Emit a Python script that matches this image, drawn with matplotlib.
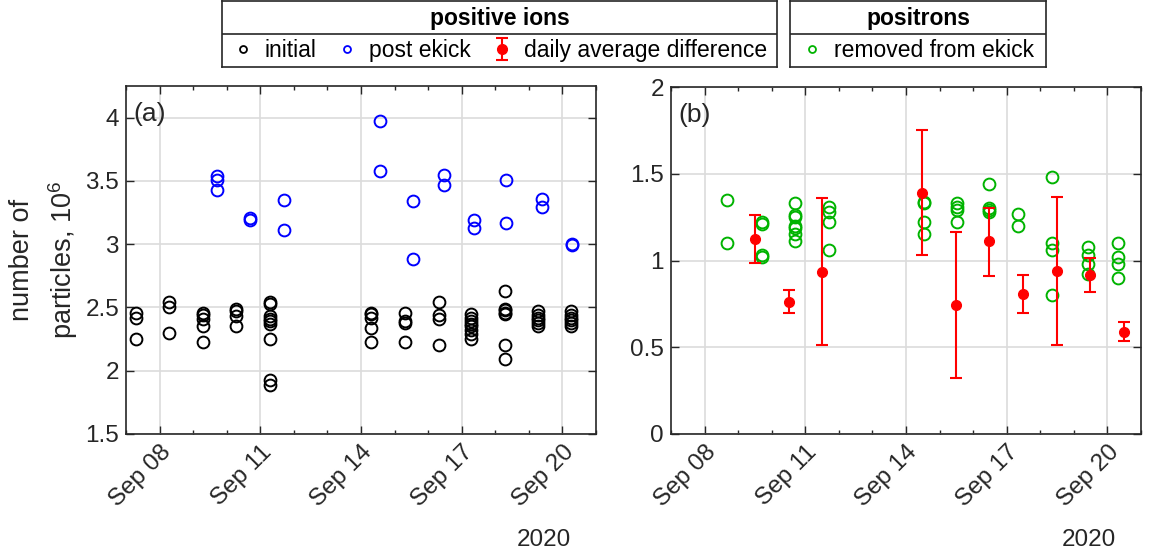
import numpy as np
import pandas as pd
import matplotlib
matplotlib.use("Agg")
import matplotlib.pyplot as plt
import matplotlib.dates as mdates
from matplotlib.lines import Line2D
from matplotlib.ticker import FuncFormatter

plt.rcParams['font.family'] = ['Liberation Sans', 'DejaVu Sans']
plt.rcParams['mathtext.fontset'] = 'custom'
plt.rcParams['mathtext.rm'] = 'Liberation Sans'

# day of September 2020 (fractional) and measured values
ion_init_days = [7.29, 8.28, 9.28, 10.28, 11.29, 14.30, 15.30, 16.31, 17.29, 18.29, 19.27, 20.27]
ion_init = [
    [2.46, 2.42, 2.25],
    [2.54, 2.50, 2.30],
    [2.46, 2.44, 2.41, 2.35, 2.23],
    [2.49, 2.47, 2.43, 2.35],
    [2.54, 2.53, 2.43, 2.41, 2.39, 2.37, 2.25, 1.93, 1.89],
    [2.46, 2.45, 2.42, 2.34, 2.23],
    [2.46, 2.39, 2.38, 2.23],
    [2.54, 2.44, 2.41, 2.20],
    [2.45, 2.42, 2.39, 2.37, 2.35, 2.32, 2.29, 2.25],
    [2.63, 2.49, 2.48, 2.46, 2.45, 2.20, 2.09],
    [2.47, 2.44, 2.42, 2.40, 2.38, 2.35],
    [2.47, 2.44, 2.42, 2.40, 2.38, 2.35],
]
ion_post_days = [9.70, 10.70, 11.70, 14.58, 15.54, 16.47, 17.37, 18.33, 19.40, 20.29]
ion_post = [
    [3.54, 3.51, 3.43],
    [3.21, 3.19],
    [3.35, 3.11],
    [3.97, 3.58],
    [3.34, 2.88],
    [3.55, 3.47],
    [3.19, 3.13],
    [3.51, 3.17],
    [3.36, 3.29],
    [3.00, 2.99],
]
pos_days = [8.67, 9.72, 10.69, 11.70, 14.55, 15.51, 16.46, 17.35, 18.34, 19.41, 20.30]
pos_removed = [
    [1.35, 1.10],
    [1.22, 1.21, 1.03, 1.02],
    [1.33, 1.26, 1.25, 1.20, 1.19, 1.15, 1.11],
    [1.31, 1.28, 1.22, 1.06],
    [1.34, 1.33, 1.22, 1.15],
    [1.33, 1.31, 1.29, 1.22],
    [1.44, 1.30, 1.29, 1.28],
    [1.27, 1.20],
    [1.48, 1.10, 1.06, 0.80],
    [1.08, 1.03, 0.98, 0.92],
    [1.10, 1.02, 0.98, 0.90],
]
diff_days = [9.50, 10.50, 11.49, 14.48, 15.48, 16.47, 17.48, 18.49, 19.48, 20.48]
diff_mean = [1.125, 0.76, 0.935, 1.39, 0.745, 1.11, 0.805, 0.94, 0.915, 0.59]
diff_low = [0.985, 0.695, 0.515, 1.03, 0.32, 0.91, 0.695, 0.515, 0.82, 0.535]
diff_high = [1.265, 0.83, 1.36, 1.75, 1.165, 1.30, 0.915, 1.365, 1.015, 0.645]

GREEN = (0, 0.7, 0)
AXC = '#262626'
FS = 17.5      # tick labels
LFS = 16.5     # legend


def to_dates(days):
    return pd.Timestamp('2020-09-01') + pd.to_timedelta(np.asarray(days, dtype=float) - 1, unit='D')


def flatten(days, groups):
    xs = np.concatenate([[d] * len(g) for d, g in zip(days, groups)])
    ys = np.concatenate(groups)
    return to_dates(xs), ys


def style(ax):
    ax.set_xlim(to_dates([7, 21]))
    ax.xaxis.set_major_locator(mdates.DayLocator(bymonthday=[8, 11, 14, 17, 20]))
    ax.xaxis.set_minor_locator(mdates.DayLocator())
    ax.xaxis.set_major_formatter(mdates.DateFormatter('%b %d'))
    ax.yaxis.set_major_formatter(FuncFormatter(lambda v, p: '%g' % v))
    ax.grid(True, color='#dcdcdc', lw=1.2)
    ax.set_axisbelow(True)
    ax.tick_params(which='both', direction='in', top=True, right=True,
                   labelsize=FS, colors=AXC, width=1.0)
    ax.tick_params(which='major', length=6, pad=5)
    ax.tick_params(which='minor', length=3)
    for sp in ax.spines.values():
        sp.set_color(AXC)
        sp.set_linewidth(1.2)
    plt.setp(ax.get_xticklabels(), rotation=45, ha='right', va='top',
             rotation_mode='anchor')
    ax.text(0.89, -0.305, '2020', transform=ax.transAxes, ha='center',
            va='center', fontsize=FS, color=AXC)


W, H = 1154, 556
fig = plt.figure(figsize=(W / 100, H / 100), dpi=100)
ax1 = fig.add_axes([126 / W, 122 / H, 470 / W, 348 / H])
ax2 = fig.add_axes([671 / W, 122 / H, 470 / W, 347 / H])

# (a) positive ions
x, y = flatten(ion_init_days, ion_init)
ax1.plot(x, y, 'o', mfc='none', mec='k', ms=8.5, mew=1.4)
x, y = flatten(ion_post_days, ion_post)
ax1.plot(x, y, 'o', mfc='none', mec='b', ms=8.5, mew=1.4)
ax1.set_ylim(1.5, 4.25)
ax1.set_yticks([1.5, 2, 2.5, 3, 3.5, 4])
ax1.set_ylabel('number of\nparticles, $10^6$', fontsize=19.5, color=AXC,
               linespacing=1.45)
ax1.yaxis.set_label_coords(-0.097, 0.5)
ax1.text(0.016, 0.955, '(a)', transform=ax1.transAxes, fontsize=19,
         va='top', ha='left', color=AXC)
style(ax1)

# (b) positrons
x, y = flatten(pos_days, pos_removed)
ax2.plot(x, y, 'o', mfc='none', mec=GREEN, ms=8.5, mew=1.4)
dm = np.array(diff_mean)
err = [dm - np.array(diff_low), np.array(diff_high) - dm]
eb = ax2.errorbar(to_dates(diff_days), dm, yerr=err, fmt='o', color='red',
                  ms=7, capsize=4, elinewidth=1.5, capthick=1.5)
ax2.set_ylim(0, 2)
ax2.set_yticks([0, 0.5, 1, 1.5, 2])
ax2.text(0.016, 0.955, '(b)', transform=ax2.transAxes, fontsize=19,
         va='top', ha='left', color=AXC)
style(ax2)


# legend boxes
def legend_box(rect, title, handles, labels, ncol):
    lb = fig.add_axes(rect)
    lb.set_xticks([])
    lb.set_yticks([])
    for sp in lb.spines.values():
        sp.set_color(AXC)
        sp.set_linewidth(1.2)
    lb.axhline(0.5, color=AXC, lw=1.2)
    lb.text(0.5, 0.74, title, ha='center', va='center', fontsize=LFS,
            fontweight='bold', color='k')
    lb.legend(handles, labels, ncol=ncol, loc='center', bbox_to_anchor=(0.5, 0.25),
              frameon=False, fontsize=LFS, handletextpad=0.5, columnspacing=0.9,
              handlelength=0.9, borderpad=0, borderaxespad=0)


h_init = Line2D([], [], marker='o', ls='', mfc='none', mec='k', ms=5, mew=1.3)
h_post = Line2D([], [], marker='o', ls='', mfc='none', mec='b', ms=5, mew=1.3)
h_pos = Line2D([], [], marker='o', ls='', mfc='none', mec=GREEN, ms=5, mew=1.3)
legend_box([222 / W, 1 - 67 / H, 555 / W, 66 / H], 'positive ions',
           [h_init, h_post, eb], ['initial', 'post ekick', 'daily average difference'], 3)
legend_box([790 / W, 1 - 67 / H, 256 / W, 66 / H], 'positrons',
           [h_pos], ['removed from ekick'], 1)

fig.savefig('out.png', dpi=100)
